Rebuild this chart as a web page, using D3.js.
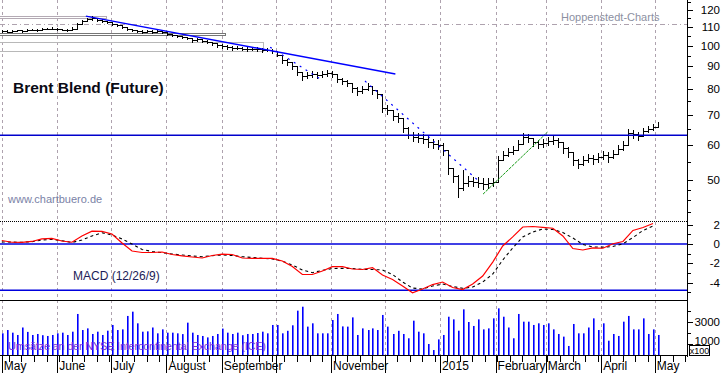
<!DOCTYPE html>
<html>
<head>
<meta charset="utf-8">
<script src="https://cdn.jsdelivr.net/npm/d3@7"></script>
<style>
  body { margin: 0; background: #fff; }
  svg { display: block; font-family: "Liberation Sans", Arial, sans-serif; }
</style>
</head>
<body>
<svg id="chart" width="723" height="373"></svg>
<script>
// ---- data ----
// one bar every ~2 trading days, May 2014 - May 2015 (USD per barrel)
const closes = [
  107.8,107.5,107.8,108.1,107.8,108.3,108.6,108.3,108.9,109.2,
  109.2,108.9,108.6,108.3,109.2,111.8,113.5,114.7,115.3,114.1,
  113.8,112.9,112.0,111.2,110.0,108.9,108.3,107.8,107.5,107.8,
  107.5,107.8,107.2,106.1,105.6,105.0,104.5,104.0,102.9,103.2,
  102.4,101.8,101.3,100.3,99.8,99.2,98.7,98.9,98.4,98.2,
  98.5,98.2,97.7,97.9,97.2,95.2,92.8,91.9,90.0,87.3,
  85.5,85.9,86.4,85.9,86.4,86.8,86.4,84.2,83.3,82.4,
  80.3,79.1,79.9,81.2,79.5,77.9,72.5,71.7,69.5,68.8,
  65.4,63.1,62.4,62.1,61.8,60.8,60.2,59.9,58.4,53.2,
  51.0,48.0,49.2,49.7,49.5,49.3,49.0,49.2,49.5,55.4,
  56.9,57.8,58.4,60.2,62.4,62.1,60.8,60.2,60.5,61.1,
  61.4,60.8,59.0,57.8,55.4,54.3,55.4,56.0,55.6,56.3,
  56.9,56.3,57.2,58.7,59.9,63.7,63.4,62.7,64.4,65.0,
  65.7,66.7
];
const highs = [
  108.3,108.1,108.3,108.6,108.4,108.8,109.1,108.9,109.4,109.7,
  109.8,109.5,109.2,108.9,109.9,112.5,114.2,115.4,116.2,115.0,
  114.6,113.7,112.8,112.0,110.9,109.8,109.0,108.5,108.2,108.4,
  108.1,108.4,107.9,106.9,106.4,105.8,105.3,104.8,103.8,104.0,
  103.2,102.7,102.1,101.2,100.7,100.1,99.6,99.7,99.3,99.1,
  99.4,99.1,98.7,98.8,98.1,96.6,94.2,93.3,91.4,89.0,
  87.2,87.4,87.8,87.3,87.9,88.3,87.6,85.9,84.8,83.9,
  81.9,80.6,81.2,82.6,81.1,79.6,76.0,73.8,71.6,70.6,
  67.8,65.6,64.1,63.6,63.4,62.6,61.9,61.6,60.6,58.4,
  53.3,51.4,52.7,51.1,50.9,50.8,50.4,50.5,50.6,56.6,
  58.1,59.1,59.6,61.5,63.6,63.3,62.2,61.6,61.8,62.4,
  62.6,62.2,60.8,59.3,57.5,55.7,56.6,57.2,57.0,57.6,
  58.2,57.7,58.4,59.9,61.1,64.9,64.6,63.9,65.5,66.1,
  66.7,67.3
];
const lows = [
  107.3,107.0,107.3,107.6,107.3,107.8,108.1,107.8,108.4,108.7,
  108.7,108.4,108.1,107.8,108.6,109.3,111.6,113.7,114.4,113.5,
  113.1,112.1,111.3,110.5,109.3,108.2,107.6,107.1,106.9,107.2,
  106.9,107.1,106.5,105.4,104.9,104.3,103.8,103.2,102.1,102.5,
  101.7,101.1,100.5,99.5,99.0,98.4,97.9,98.1,97.6,97.4,
  97.7,97.4,96.9,97.1,96.3,94.6,91.6,90.7,88.8,85.9,
  83.7,84.7,85.2,84.7,85.2,85.6,85.1,82.7,81.9,81.0,
  78.9,77.7,78.5,79.4,78.1,76.2,71.0,70.1,68.0,67.5,
  63.9,62.0,61.3,60.9,60.5,59.4,59.0,58.7,57.0,51.5,
  49.6,45.8,47.6,48.5,48.4,48.2,47.8,48.1,48.4,50.0,
  55.4,56.6,57.2,58.8,60.9,60.8,59.5,58.9,59.2,59.8,
  60.1,59.4,57.6,56.4,53.9,53.2,54.0,54.8,54.3,55.0,
  55.6,55.0,55.9,57.3,58.5,61.5,62.2,61.6,63.1,63.9,
  64.6,65.9
];
// volume in contracts x100
const volumes = [
  1970,2270,2030,1820,2500,2100,1820,1910,1800,1730,
  1820,1970,2030,1820,2120,3730,2270,2420,1910,2120,
  1820,2210,2730,2270,2330,3550,3940,2880,2120,2150,
  2500,1970,2330,2030,2030,1970,1900,2940,2030,1820,
  1730,1600,1730,1910,2400,2030,1910,2030,1800,1910,
  1910,2000,2120,1970,2730,2730,1970,2200,2700,4030,
  4390,2580,2880,1970,1970,1970,3180,3730,2600,2580,
  3420,1820,2420,2270,2420,2270,3640,2580,1910,2200,
  1910,1520,3120,2120,1970,1000,450,1420,1820,3480,
  3240,2210,4150,3000,2640,3240,2330,2420,3330,4240,
  3480,2500,1520,3730,3030,3030,2730,2880,2730,2880,
  2330,1910,1670,820,2820,1970,1970,2500,3330,2270,
  2880,1300,1910,1730,3030,3550,2330,2330,3330,1910,
  2330,1820
];
// MACD (12/26/9), one value for every second bar
const macdValues = [
  0.36,0.18,0.16,0.26,0.52,0.57,0.31,0.18,0.83,1.33,
  1.30,1.04,0.10,-0.73,-0.88,-0.88,-0.83,-1.09,-1.24,-1.35,
  -1.45,-1.19,-1.06,-1.09,-1.45,-1.48,-1.48,-1.50,-1.76,-2.33,
  -3.16,-3.16,-2.80,-2.35,-2.35,-2.59,-2.64,-2.44,-3.21,-3.68,
  -4.35,-5.05,-4.66,-4.20,-3.94,-4.51,-4.72,-4.15,-3.32,-1.87,
  -0.21,0.73,1.76,1.81,1.71,1.63,0.83,-0.47,-0.62,-0.41,
  -0.44,0.02,0.26,1.40,1.71,2.12
];
const signalValues = [
  0.21,0.19,0.18,0.23,0.41,0.47,0.34,0.16,0.41,0.83,
  1.16,0.93,0.52,0.00,-0.57,-0.78,-0.90,-1.04,-1.14,-1.24,
  -1.32,-1.21,-1.14,-1.19,-1.32,-1.40,-1.48,-1.55,-1.78,-2.18,
  -2.69,-2.97,-2.73,-2.54,-2.52,-2.54,-2.62,-2.64,-2.69,-3.16,
  -3.94,-4.56,-4.66,-4.35,-4.15,-4.40,-4.59,-4.46,-3.94,-3.11,
  -1.66,-0.41,0.73,1.24,1.55,1.50,1.19,0.62,-0.05,-0.31,
  -0.33,-0.26,0.02,0.67,1.40,1.87
];
const macdLevels = [0, -4.8];

const monthStarts = ["2014-05-01","2014-06-01","2014-07-01","2014-08-01","2014-09-01","2014-10-01",
  "2014-11-01","2014-12-01","2015-01-01","2015-02-01","2015-03-01","2015-04-01","2015-05-01"];
const monthLabels = ["May","June","July","August","September","","November","","2015",
  "February","March","April","May"];

const priceTicks = [50, 60, 70, 80, 90, 100, 110, 120];
const priceMinorTicks = [42.5, 45, 47.5, 55, 65, 75, 85, 95, 105, 115, 125];
const macdTicks = [2, 0, -2, -4];
const macdMinorTicks = [1, -1, -3, -5];
const volumeTicks = [3000, 1000];
const volumeMinorTicks = [4000, 2000];

// drawn tools: trend lines [date, price]
const resistanceLine = [["2014-06-17", 116.4], ["2014-12-07", 86.4]];
const downTrend1 = [["2014-09-28", 99.2], ["2014-10-26", 84.2]];
const downTrend2 = [["2014-11-20", 83.3], ["2015-01-22", 50.0]];
const upTrend = [["2015-01-25", 46.5], ["2015-03-02", 64.0]];
const supportLevel = 63.0;
const gridLevel = 112;
// grey boxes: [start, end, upper price, lower price]
const zones = [
  ["2014-04-30", "2014-06-28", 116.4, 115.3],
  ["2014-04-30", "2014-09-03", 106.5, 105.4],
  ["2014-04-30", "2014-09-24", 101.8, 97.2]
];

// ---- scales ----
const parse = d3.timeParse("%Y-%m-%d");
const plotRight = 687;
const x = d3.scaleTime().domain([parse("2014-04-30"), parse("2015-05-19")]).range([0, plotRight]);
const yPrice = d3.scaleLog().domain([40.9, 126.5]).range([219, 0]);
const yMacd = d3.scaleLinear().domain([-5.8, 2.4]).range([300, 220.8]);
const yVol = d3.scaleLinear().domain([0, 4909]).range([355, 301]);

const firstBar = parse("2014-05-01");
const barDates = closes.map((c, i) => d3.timeHour.offset(firstBar, Math.round(i * 2.8 * 24)));
const bars = closes.map((c, i) => ({ date: barDates[i], close: c, high: highs[i], low: lows[i], vol: volumes[i] }));
const macdPts = macdValues.map((v, k) => ({ date: barDates[2 * k], macd: v, signal: signalValues[k] }));

const px = d => Math.round(x(d)) + 0.5;
const svg = d3.select("#chart");

// ---- grid ----
const grid = svg.append("g").attr("shape-rendering", "crispEdges");
grid.selectAll("line")
  .data(monthStarts.map(parse))
  .join("line")
  .attr("x1", px).attr("x2", px)
  .attr("y1", 0).attr("y2", 355)
  .attr("stroke", "#aea2ae")
  .attr("stroke-dasharray", "3,3");

grid.append("line")
  .attr("x1", 0).attr("x2", plotRight)
  .attr("y1", Math.round(yPrice(gridLevel)) + 0.5).attr("y2", Math.round(yPrice(gridLevel)) + 0.5)
  .attr("stroke", "#aea2ae")
  .attr("stroke-dasharray", "5,3,1,3");

// grey boxes
const zoneColors = ["#b4aab4", "#767676", "#b8b8b8"];
svg.append("g").attr("shape-rendering", "crispEdges")
  .selectAll("rect")
  .data(zones)
  .join("rect")
  .attr("x", d => x(parse(d[0])) - 2)
  .attr("y", d => Math.round(yPrice(d[2])) + 0.5)
  .attr("width", d => Math.round(x(parse(d[1])) - x(parse(d[0])) + 2))
  .attr("height", d => Math.max(1, Math.round(yPrice(d[3]) - yPrice(d[2]))))
  .attr("fill", "none")
  .attr("stroke", (d, i) => zoneColors[i]);

// ---- price ----
const priceG = svg.append("g");
priceG.selectAll("line")
  .data(bars)
  .join("line")
  .attr("x1", d => px(d.date)).attr("x2", d => px(d.date))
  .attr("y1", d => Math.round(yPrice(d.high)))
  .attr("y2", d => Math.round(yPrice(d.low)) + 1)
  .attr("stroke", "#000")
  .attr("shape-rendering", "crispEdges");

priceG.append("path")
  .datum(bars)
  .attr("d", d3.line()
    .x(d => px(d.date))
    .y(d => Math.round(yPrice(d.close)) + 0.5)
    .curve(d3.curveStepAfter))
  .attr("fill", "none")
  .attr("stroke", "#000")
  .attr("shape-rendering", "crispEdges");

// trend lines
const trendPath = d3.line().x(d => x(parse(d[0]))).y(d => yPrice(d[1]));
svg.append("path").datum(resistanceLine).attr("d", trendPath)
  .attr("stroke", "#0000ff").attr("stroke-width", 1.4).attr("fill", "none");
svg.append("path").datum(downTrend1).attr("d", trendPath)
  .attr("stroke", "#0000ff").attr("stroke-width", 1.2).attr("stroke-dasharray", "2,5").attr("fill", "none");
svg.append("path").datum(downTrend2).attr("d", trendPath)
  .attr("stroke", "#0000ff").attr("stroke-width", 1.2).attr("stroke-dasharray", "2,5").attr("fill", "none");
svg.append("path").datum(upTrend).attr("d", trendPath)
  .attr("stroke", "#119911").attr("stroke-width", 1).attr("stroke-dasharray", "3,1").attr("fill", "none");
svg.append("line")
  .attr("x1", 0).attr("x2", plotRight)
  .attr("y1", yPrice(supportLevel)).attr("y2", yPrice(supportLevel))
  .attr("stroke", "#0000cc").attr("stroke-width", 1.5);

// ---- MACD ----
svg.append("line")
  .attr("x1", 0).attr("x2", plotRight)
  .attr("y1", 221.5).attr("y2", 221.5)
  .attr("stroke", "#000").attr("stroke-dasharray", "1,1")
  .attr("shape-rendering", "crispEdges");
svg.append("g").selectAll("line")
  .data(macdLevels)
  .join("line")
  .attr("x1", 0).attr("x2", plotRight)
  .attr("y1", d => yMacd(d)).attr("y2", d => yMacd(d))
  .attr("stroke", "#0000dd").attr("stroke-width", 1.5);

svg.append("path")
  .datum(macdPts)
  .attr("d", d3.line().x(d => x(d.date)).y(d => yMacd(d.signal)))
  .attr("fill", "none").attr("stroke", "#000").attr("stroke-width", 1.1)
  .attr("stroke-dasharray", "3,3");
svg.append("path")
  .datum(macdPts)
  .attr("d", d3.line().x(d => x(d.date)).y(d => yMacd(d.macd)))
  .attr("fill", "none").attr("stroke", "#ff0000").attr("stroke-width", 1.2);

// ---- volume ----
svg.append("line")
  .attr("x1", 0).attr("x2", plotRight)
  .attr("y1", 300.5).attr("y2", 300.5)
  .attr("stroke", "#000").attr("shape-rendering", "crispEdges");
svg.append("g").selectAll("rect")
  .data(bars)
  .join("rect")
  .attr("x", d => Math.round(x(d.date)))
  .attr("y", d => yVol(d.vol))
  .attr("width", 1.6)
  .attr("height", d => yVol(0) - yVol(d.vol))
  .attr("fill", "#0000ff");

// ---- axes ----
const axisG = svg.append("g").attr("shape-rendering", "crispEdges").attr("stroke", "#000");
axisG.append("line").attr("x1", plotRight + 0.5).attr("x2", plotRight + 0.5).attr("y1", 0).attr("y2", 357);
axisG.append("line").attr("x1", 0).attr("x2", plotRight).attr("y1", 355.5).attr("y2", 355.5);

function rightTicks(values, scale, len) {
  axisG.append("g").selectAll("line")
    .data(values)
    .join("line")
    .attr("x1", plotRight).attr("x2", plotRight + len)
    .attr("y1", d => Math.round(scale(d)) + 0.5)
    .attr("y2", d => Math.round(scale(d)) + 0.5);
}
rightTicks(priceTicks, yPrice, 6);
rightTicks(priceMinorTicks, yPrice, 4);
rightTicks(macdTicks, yMacd, 6);
rightTicks(macdMinorTicks, yMacd, 4);
rightTicks(volumeTicks, yVol, 6);
rightTicks(volumeMinorTicks, yVol, 4);

// weekly and monthly ticks below the time axis
axisG.append("g").selectAll("line")
  .data(d3.timeMonday.range(x.domain()[0], x.domain()[1]))
  .join("line")
  .attr("x1", px).attr("x2", px)
  .attr("y1", 356).attr("y2", 362);
axisG.append("g").selectAll("line")
  .data(monthStarts.map(parse))
  .join("line")
  .attr("x1", px).attr("x2", px)
  .attr("y1", 356).attr("y2", 373);

const labelFont = 11.5;
function rightLabels(values, scale, dy) {
  svg.append("g").selectAll("text")
    .data(values)
    .join("text")
    .attr("x", 720)
    .attr("y", d => scale(d))
    .attr("dy", dy)
    .attr("text-anchor", "end")
    .attr("font-size", labelFont)
    .attr("fill", "#000")
    .text(d => d);
}
rightLabels(priceTicks, yPrice, "0.36em");
rightLabels(macdTicks, yMacd, "0.36em");
rightLabels([volumeTicks[0]], yVol, "0.36em");
// lower volume label sits just above the "x100" marker
rightLabels([volumeTicks[1]], yVol, "0.05em");

// "x100" marker over the volume axis
svg.append("rect")
  .attr("x", 689.5).attr("y", 345.5).attr("width", 20).attr("height", 9.5)
  .attr("fill", "#fff").attr("stroke", "#000").attr("shape-rendering", "crispEdges");
svg.append("text")
  .attr("x", 699.5).attr("y", 353.5)
  .attr("text-anchor", "middle")
  .attr("font-size", 9)
  .text("x100");

svg.append("g").selectAll("text")
  .data(monthStarts.map((d, i) => ({ date: parse(d), label: monthLabels[i] })))
  .join("text")
  .attr("x", d => x(d.date) + 2)
  .attr("y", 370)
  .attr("font-size", 12)
  .attr("fill", "#000")
  .text(d => d.label);

// ---- captions ----
svg.append("text")
  .attr("x", 13).attr("y", 93)
  .attr("font-size", 15.5).attr("font-weight", "bold").attr("fill", "#0a0a14")
  .text("Brent Blend (Future)");
svg.append("text")
  .attr("x", 8).attr("y", 203)
  .attr("font-size", 11).attr("fill", "#7a82a6")
  .text("www.chartbuero.de");
svg.append("text")
  .attr("x", 561).attr("y", 21)
  .attr("font-size", 11).attr("fill", "#8c90a2")
  .text("Hoppenstedt-Charts");
svg.append("text")
  .attr("x", 73).attr("y", 280)
  .attr("font-size", 12).attr("fill", "#1c1c58")
  .text("MACD (12/26/9)");
svg.append("text")
  .attr("x", 8).attr("y", 350)
  .attr("font-size", 11).attr("fill", "#7a30d8")
  .attr("textLength", 258)
  .text("Umsätze an der NYSE Intercontinental Exchange (ICE)");
</script>
</body>
</html>
